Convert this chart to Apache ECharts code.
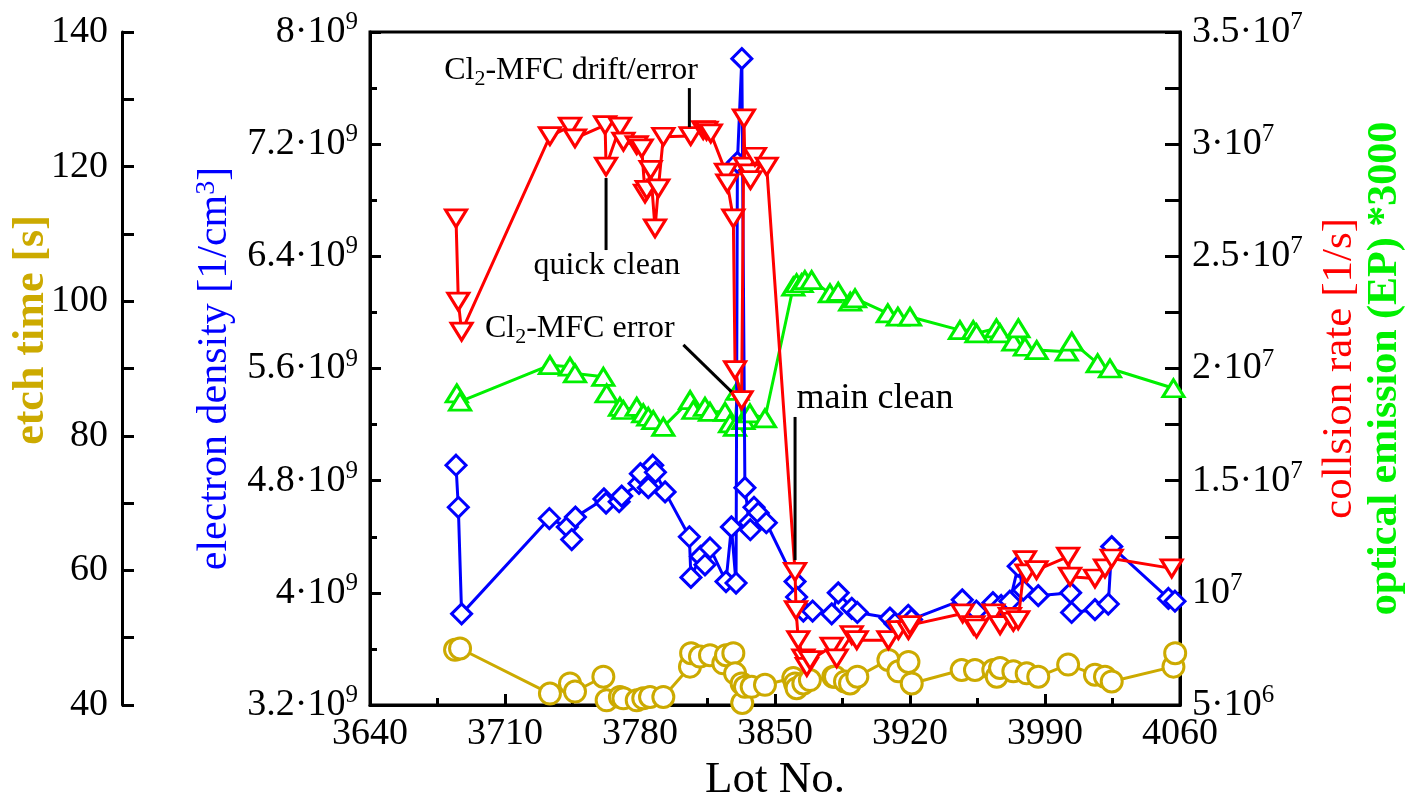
<!DOCTYPE html>
<html><head><meta charset="utf-8">
<script src="https://cdn.jsdelivr.net/npm/echarts@6/dist/echarts.min.js"></script>
<style>html,body{margin:0;padding:0;background:#fff}#c{width:1409px;height:797px}</style>
</head><body><div id="c"></div>
<script>
// ---------------- data ----------------
const lotTicks = [3640, 3710, 3780, 3850, 3920, 3990, 4060];
const etchTicks = [40, 60, 80, 100, 120, 140];
const densityTicks_1e9 = [3.2, 4, 4.8, 5.6, 6.4, 7.2, 8];
const rateTicks_1e7 = [0.5, 1, 1.5, 2, 2.5, 3, 3.5];

const etchLots = [3684.1,3686.7,3733.3,3743.7,3746.3,3761.0,3762.7,3769.6,3771.4,3778.3,3781.7,3785.2,3792.1,3805.9,3806.5,3811.1,3816.3,3823.2,3824.6,3828.4,3829.3,3832.7,3833.0,3834.4,3837.9,3844.8,3859.5,3860.4,3861.2,3864.7,3868.1,3880.2,3881.1,3886.3,3888.9,3892.7,3908.8,3914.0,3919.2,3920.9,3946.8,3953.7,3963.2,3965.0,3966.7,3973.6,3980.5,3986.5,4002.0,4015.9,4021.1,4024.6,4056.6,4057.5];
const etchTime = [48.2,48.4,41.7,43.2,42.0,44.2,40.7,41.2,41.0,40.7,41.0,41.2,41.2,45.7,47.7,47.2,47.4,46.2,47.4,47.7,44.7,43.2,40.3,42.7,42.7,43.0,44.0,43.2,42.5,43.2,43.7,44.2,44.2,43.5,43.2,44.2,46.7,45.0,46.4,43.2,45.2,45.2,45.2,44.2,45.5,45.0,44.7,44.2,46.0,44.5,44.2,43.5,45.7,47.7];

const densityLots = [3684.6,3685.8,3687.5,3733.0,3742.3,3744.6,3746.5,3761.3,3762.4,3769.2,3770.5,3779.5,3780.2,3784.3,3786.6,3788.0,3793.0,3805.6,3806.4,3811.4,3813.7,3816.3,3824.6,3827.4,3829.8,3830.5,3832.8,3834.4,3836.7,3837.2,3839.1,3841.3,3845.5,3860.4,3861.2,3864.7,3869.5,3879.4,3882.8,3889.8,3892.7,3909.6,3912.2,3919.1,3920.8,3947.1,3954.4,3963.0,3967.3,3971.8,3976.1,3978.7,3986.5,4003.3,4003.8,4015.9,4022.8,4024.6,4054.0,4057.4];
const density_1e9 = [4.91,4.61,3.85,4.53,4.47,4.38,4.54,4.67,4.64,4.65,4.69,4.78,4.85,4.75,4.91,4.86,4.72,4.40,4.11,4.26,4.20,4.32,4.08,4.47,4.07,7.07,7.81,4.75,4.50,4.45,4.61,4.57,4.50,4.08,3.97,3.87,3.87,3.85,4.00,3.89,3.86,3.82,3.78,3.84,3.81,3.95,3.87,3.93,3.91,3.94,4.19,4.02,3.98,4.00,3.86,3.88,3.92,4.33,3.96,3.94];

const rateLots = [3684.6,3685.8,3687.5,3733.3,3743.7,3746.3,3761.9,3762.4,3769.6,3771.4,3778.3,3780.9,3782.6,3783.5,3785.5,3787.8,3789.5,3792.1,3806.3,3812.8,3814.5,3816.7,3824.6,3825.3,3828.4,3829.3,3832.7,3833.9,3834.4,3837.0,3837.3,3839.6,3845.7,3860.4,3860.9,3862.1,3864.7,3866.5,3868.2,3879.4,3882.0,3889.8,3892.4,3908.8,3914.0,3919.2,3920.0,3947.3,3952.9,3954.5,3963.2,3966.7,3971.8,3973.6,3976.1,3979.6,3980.4,3985.6,4002.0,4003.0,4015.9,4021.1,4024.6,4055.7];
const collisionRate_1e7 = [2.669,2.298,2.164,3.036,3.078,3.026,3.085,2.90,3.078,3.011,2.996,2.981,2.78,2.796,2.885,2.625,2.803,3.033,3.036,3.063,3.06,3.048,2.873,2.825,2.669,1.993,1.859,3.115,2.90,2.870,2.84,2.944,2.90,1.094,0.923,0.789,0.708,0.67,0.70,0.76,0.708,0.812,0.789,0.789,0.834,0.834,0.856,0.908,0.856,0.841,0.908,0.856,0.893,0.871,0.878,1.146,1.087,1.101,1.161,1.072,1.064,1.109,1.153,1.109];

const emissionLots = [3685.0,3686.7,3733.3,3743.7,3746.3,3761.0,3762.7,3769.6,3771.4,3778.3,3781.7,3784.3,3786.9,3792.1,3806.0,3807.7,3813.7,3816.3,3824.1,3826.7,3829.3,3830.5,3833.6,3837.0,3844.8,3859.5,3861.2,3863.8,3865.5,3869.0,3878.5,3882.8,3889.0,3891.5,3908.5,3913.7,3920.0,3945.9,3952.8,3954.5,3964.8,3966.7,3973.6,3976.2,3979.6,3985.7,4001.3,4003.9,4017.3,4023.7,4056.6];
const emission3000_1e7 = [1.889,1.852,2.015,2.008,1.978,1.963,1.889,1.829,1.815,1.829,1.80,1.785,1.77,1.74,1.859,1.815,1.829,1.807,1.807,1.755,1.74,1.90,1.77,1.80,1.778,2.365,2.38,2.38,2.394,2.394,2.335,2.342,2.298,2.313,2.246,2.231,2.231,2.171,2.171,2.157,2.179,2.157,2.12,2.179,2.097,2.082,2.075,2.12,2.023,2.0,1.912];

// ---------------- chart ----------------
const FONT = 'Liberation Serif';
const GOLD = '#ccaa00', BLUE = '#0000ff', RED = '#ff0000', GREEN = '#00f000';
const chart = echarts.init(document.getElementById('c'), null, {renderer: 'canvas'});

function sci(v) {
  const e = Math.floor(Math.log10(v) + 1e-9);
  const m = Math.round(v / Math.pow(10, e) * 10) / 10;
  return (m === 1 ? '{m|10}' : '{m|' + m + '·10}') + '{s|' + e + '}';
}
const tickRich = {
  m: {fontFamily: FONT, fontSize: 38, color: '#000', lineHeight: 44},
  s: {fontFamily: FONT, fontSize: 25, color: '#000', lineHeight: 25, verticalAlign: 'top'}
};
const blackLine = {color: '#000', width: 3};

function yAx(o) {
  return Object.assign({
    type: 'value', splitLine: {show: false}, minorSplitLine: {show: false},
    axisLine: {show: true, onZero: false, lineStyle: blackLine},
    axisTick: {show: true, inside: true, length: 12, lineStyle: blackLine},
    minorTick: {show: true, splitNumber: 2, length: 12, lineStyle: blackLine},
    nameLocation: 'middle', nameRotate: 90
  }, o);
}

const densityMin = densityTicks_1e9[0] * 1e9, densityMax = densityTicks_1e9[densityTicks_1e9.length - 1] * 1e9;
const rateMin = rateTicks_1e7[0] * 1e7, rateMax = rateTicks_1e7[rateTicks_1e7.length - 1] * 1e7;

function mk(name, lots, vals, scale, yIdx, color, symbol, size, rot, z) {
  return {
    type: 'line', name: name, yAxisIndex: yIdx, z: z,
    data: lots.map((x, i) => [x, vals[i] * scale]),
    symbol: symbol, symbolSize: size, symbolRotate: rot, showSymbol: true, showAllSymbol: true,
    lineStyle: {color: color, width: 3},
    itemStyle: {color: '#fff', borderColor: color, borderWidth: 3},
    emphasis: {disabled: true}, animation: false, silent: true
  };
}

chart.setOption({
  animation: false,
  textStyle: {fontFamily: FONT},
  grid: {left: 370, right: 229, top: 32, bottom: 92, show: true, borderColor: '#000', borderWidth: 3, backgroundColor: 'transparent', outerBoundsMode: 'none', containLabel: false},
  xAxis: {
    type: 'value', min: lotTicks[0], max: lotTicks[lotTicks.length - 1], interval: lotTicks[1] - lotTicks[0],
    splitLine: {show: false}, minorSplitLine: {show: false},
    axisLine: {show: true, onZero: false, lineStyle: blackLine},
    axisTick: {show: true, inside: true, length: 11, lineStyle: blackLine},
    minorTick: {show: true, splitNumber: 2, length: 7, lineStyle: blackLine},
    axisLabel: {fontFamily: FONT, fontSize: 38, color: '#000', margin: 10, showMinLabel: true, showMaxLabel: true, hideOverlap: false, formatter: v => String(v)},
    name: 'Lot No.', nameLocation: 'middle', nameGap: 46,
    nameTextStyle: {fontFamily: FONT, fontSize: 45, color: '#000'}
  },
  yAxis: [
    yAx({
      position: 'left', min: densityMin, max: densityMax, interval: 0.8e9,
      axisTick: {show: true, inside: true, length: 11, lineStyle: blackLine},
      minorTick: {show: true, splitNumber: 2, length: 7, lineStyle: blackLine},
      axisLabel: {formatter: sci, rich: tickRich, margin: 12, showMinLabel: true, showMaxLabel: true, hideOverlap: false},
      name: '{t|electron density [1/cm}{s|3}{t|]}', nameGap: 130,
      nameTextStyle: {rich: {
        t: {fontFamily: FONT, fontSize: 42, color: BLUE, lineHeight: 46},
        s: {fontFamily: FONT, fontSize: 28, color: BLUE, lineHeight: 28, verticalAlign: 'top'}
      }}
    }),
    yAx({
      position: 'left', offset: 248, min: etchTicks[0], max: etchTicks[etchTicks.length - 1], interval: 20,
      axisLabel: {fontFamily: FONT, fontSize: 38, color: '#000', margin: 14, showMinLabel: true, showMaxLabel: true, hideOverlap: false},
      name: ''
    }),
    yAx({
      position: 'right', min: rateMin, max: rateMax, interval: 0.5e7,
      axisTick: {show: true, inside: true, length: 15, lineStyle: blackLine},
      minorTick: {show: true, splitNumber: 2, length: 15, lineStyle: blackLine},
      axisLabel: {formatter: sci, rich: tickRich, margin: 12, showMinLabel: true, showMaxLabel: true, hideOverlap: false},
      name: 'collsion rate [1/s]', nameGap: 138,
      nameTextStyle: {fontFamily: FONT, fontSize: 43, color: RED}
    }),
    yAx({
      position: 'right', min: rateMin, max: rateMax, interval: 0.5e7,
      axisLine: {show: false}, axisTick: {show: false}, minorTick: {show: false}, axisLabel: {show: false},
      name: 'optical emission (EP) *3000', nameGap: 184,
      nameTextStyle: {fontFamily: FONT, fontSize: 42, color: GREEN, fontWeight: 'bold'}
    })
  ],
  series: [
    mk('etch time', etchLots, etchTime, 1, 1, GOLD, 'circle', 21, 0, 2),
    mk('optical emission', emissionLots, emission3000_1e7, 1e7, 3, GREEN, 'triangle', [21, 17], 0, 3),
    mk('electron density', densityLots, density_1e9, 1e9, 0, BLUE, 'diamond', 20, 0, 4),
    mk('collision rate', rateLots, collisionRate_1e7, 1e7, 2, RED, 'triangle', [21, 17], 180, 5)
  ]
});

// ---------------- annotations (data coordinates on lot / collision-rate axis) ----------------
const annText = [
  {t: '{n|Cl}{s|2}{n|-MFC drift/error}', at: [3810.0, 3.326e7], align: 'right', size: 32},
  {t: '{n|quick clean}', at: [3762.8, 2.457e7], align: 'center', size: 32},
  {t: '{n|Cl}{s|2}{n|-MFC error}', at: [3699.6, 2.176e7], align: 'left', size: 32},
  {t: '{n|main clean}', at: [3861.2, 1.868e7], align: 'left', size: 36}
];
const annLines = [
  [[3805.6, 3.25e7], [3805.6, 3.076e7]],
  [[3762.4, 2.849e7], [3762.4, 2.528e7]],
  [[3802.5, 2.105e7], [3827.5, 1.896e7]],
  [[3860.4, 1.784e7], [3860.4, 1.146e7]]
];
const px = p => chart.convertToPixel({seriesIndex: 3}, p);
const graphics = [];
annLines.forEach(l => {
  const a = px(l[0]), b = px(l[1]);
  graphics.push({type: 'line', shape: {x1: a[0], y1: a[1], x2: b[0], y2: b[1]}, style: {stroke: '#000', lineWidth: 3}, z: 10});
});
annText.forEach(o => {
  const p = px(o.at);
  graphics.push({type: 'text', x: p[0], y: p[1], z: 10, style: {
    text: o.t, align: o.align, verticalAlign: 'middle',
    rich: {
      n: {fontFamily: FONT, fontSize: o.size, fill: '#000', lineHeight: o.size + 6},
      s: {fontFamily: FONT, fontSize: Math.round(o.size * 0.68), fill: '#000', lineHeight: Math.round(o.size * 0.68), verticalAlign: 'bottom'}
    }
  }});
});
// etch-time axis title (placed off-centre like the reference)
graphics.push({type: 'text', x: 32, y: 330, rotation: Math.PI / 2, z: 10, style: {
  text: 'etch time [s]', align: 'center', verticalAlign: 'middle',
  fontFamily: FONT, fontSize: 44, fontWeight: 'bold', fill: GOLD
}});
chart.setOption({graphic: graphics});
</script>
</body></html>
